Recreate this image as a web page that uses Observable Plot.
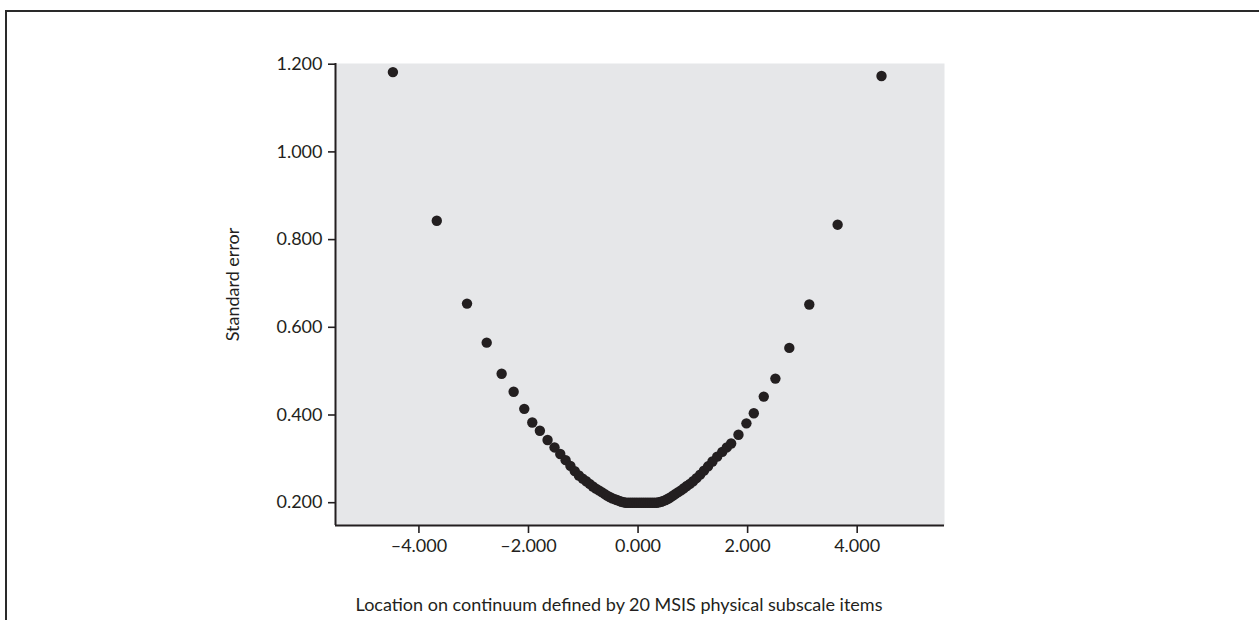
<!DOCTYPE html>
<html>
<head>
<meta charset="utf-8">
<script src="https://cdn.jsdelivr.net/npm/d3@7"></script>
<script src="https://cdn.jsdelivr.net/npm/@observablehq/plot@0.6"></script>
<style>
  html, body { margin: 0; padding: 0; background: #fff; }
  body { width: 1259px; height: 620px; overflow: hidden; position: relative; }
  #frame { position: absolute; left: 5px; top: 10px; width: 1400px; height: 800px;
           border-top: 2px solid #2a2a2a; border-left: 2px solid #2a2a2a; }
  #chart { position: absolute; left: 0; top: 0; }
</style>
</head>
<body>
<div id="frame"></div>
<div id="chart"></div>
<script>
// Location (logits) on the continuum for each raw score
const locations = [
  -4.475, -3.674, -3.122, -2.763, -2.490, -2.271, -2.077, -1.931, -1.792, -1.652, -1.525,
  -1.420, -1.322, -1.235, -1.155, -1.080, -1.010, -0.946, -0.884, -0.825, -0.769, -0.715,
  -0.663, -0.613, -0.565, -0.518, -0.473, -0.429, -0.386, -0.344, -0.302, -0.261,
  -0.221, -0.181, -0.141, -0.101, -0.061, -0.021, 0.019, 0.059, 0.099, 0.139, 0.179,
  0.219, 0.259, 0.299, 0.339,
  0.380, 0.421, 0.462, 0.504, 0.547, 0.591, 0.637, 0.684, 0.733, 0.784, 0.836,
  0.890, 0.946, 1.005, 1.067, 1.133, 1.203, 1.278, 1.358, 1.444, 1.537,
  1.620, 1.699, 1.833, 1.978, 2.113, 2.295, 2.507, 2.761, 3.126, 3.643, 4.444
];
// Standard error at each location
const stdError = [
  1.182, 0.843, 0.654, 0.565, 0.494, 0.453, 0.414, 0.383, 0.364, 0.343, 0.326,
  0.311, 0.297, 0.284, 0.272, 0.262, 0.255, 0.249, 0.243, 0.237, 0.232, 0.228,
  0.224, 0.220, 0.216, 0.213, 0.210, 0.208, 0.206, 0.204, 0.202, 0.201,
  0.200, 0.200, 0.200, 0.200, 0.200, 0.200, 0.200, 0.200, 0.200, 0.200, 0.200,
  0.200, 0.200, 0.200, 0.200,
  0.201, 0.202, 0.204, 0.206, 0.209, 0.212, 0.216, 0.220, 0.224, 0.228, 0.233,
  0.238, 0.243, 0.249, 0.256, 0.264, 0.273, 0.283, 0.294, 0.305, 0.316,
  0.326, 0.335, 0.355, 0.381, 0.404, 0.442, 0.483, 0.553, 0.652, 0.834, 1.173
];
const xTicks = [-4, -2, 0, 2, 4];
const yTicks = [0.2, 0.4, 0.6, 0.8, 1.0, 1.2];
const xLabel = "Location on continuum defined by 20 MSIS physical subscale items";
const yLabel = "Standard error";

const data = locations.map((x, i) => ({x, y: stdError[i]}));
const fmt = d => d3.format(".3f")(d).replace("−", "–").replace("-", "–");
const ink = "#231f20";
const xDomain = [-5.523, 5.594];
const yDomain = [0.148, 1.2016];

const chart = Plot.plot({
  width: 1259,
  height: 620,
  marginLeft: 335,
  marginRight: 315,
  marginTop: 63,
  marginBottom: 95,
  style: {fontFamily: "Lato, 'Open Sans', sans-serif", fontSize: "18px", color: ink, background: "transparent"},
  x: {domain: xDomain, label: null},
  y: {domain: yDomain, label: null},
  marks: [
    Plot.frame({fill: "#e6e7e9", stroke: null}),
    Plot.axisX({ticks: xTicks, tickFormat: fmt, tickSize: 8, tickPadding: 6, strokeWidth: 1.6, label: null, fontSize: 18}),
    Plot.axisY({ticks: yTicks, tickFormat: fmt, tickSize: 7, tickPadding: 6, strokeWidth: 1.6, label: null, fontSize: 18}),
    Plot.ruleY([yDomain[0]], {stroke: ink, strokeWidth: 2}),
    Plot.ruleX([xDomain[0]], {stroke: ink, strokeWidth: 2}),
    Plot.dot(data, {x: "x", y: "y", r: 5.2, fill: ink, stroke: null}),
    Plot.text([xLabel], {frameAnchor: "bottom", dx: -21, dy: 80, text: d => d, fontSize: 18, fill: ink, lineAnchor: "middle"}),
    Plot.text([yLabel], {frameAnchor: "left", dx: -102, dy: -10, text: d => d, fontSize: 18, fill: ink, rotate: -90, textAnchor: "middle", lineAnchor: "middle"})
  ]
});
document.getElementById("chart").appendChild(chart);
</script>
</body>
</html>
